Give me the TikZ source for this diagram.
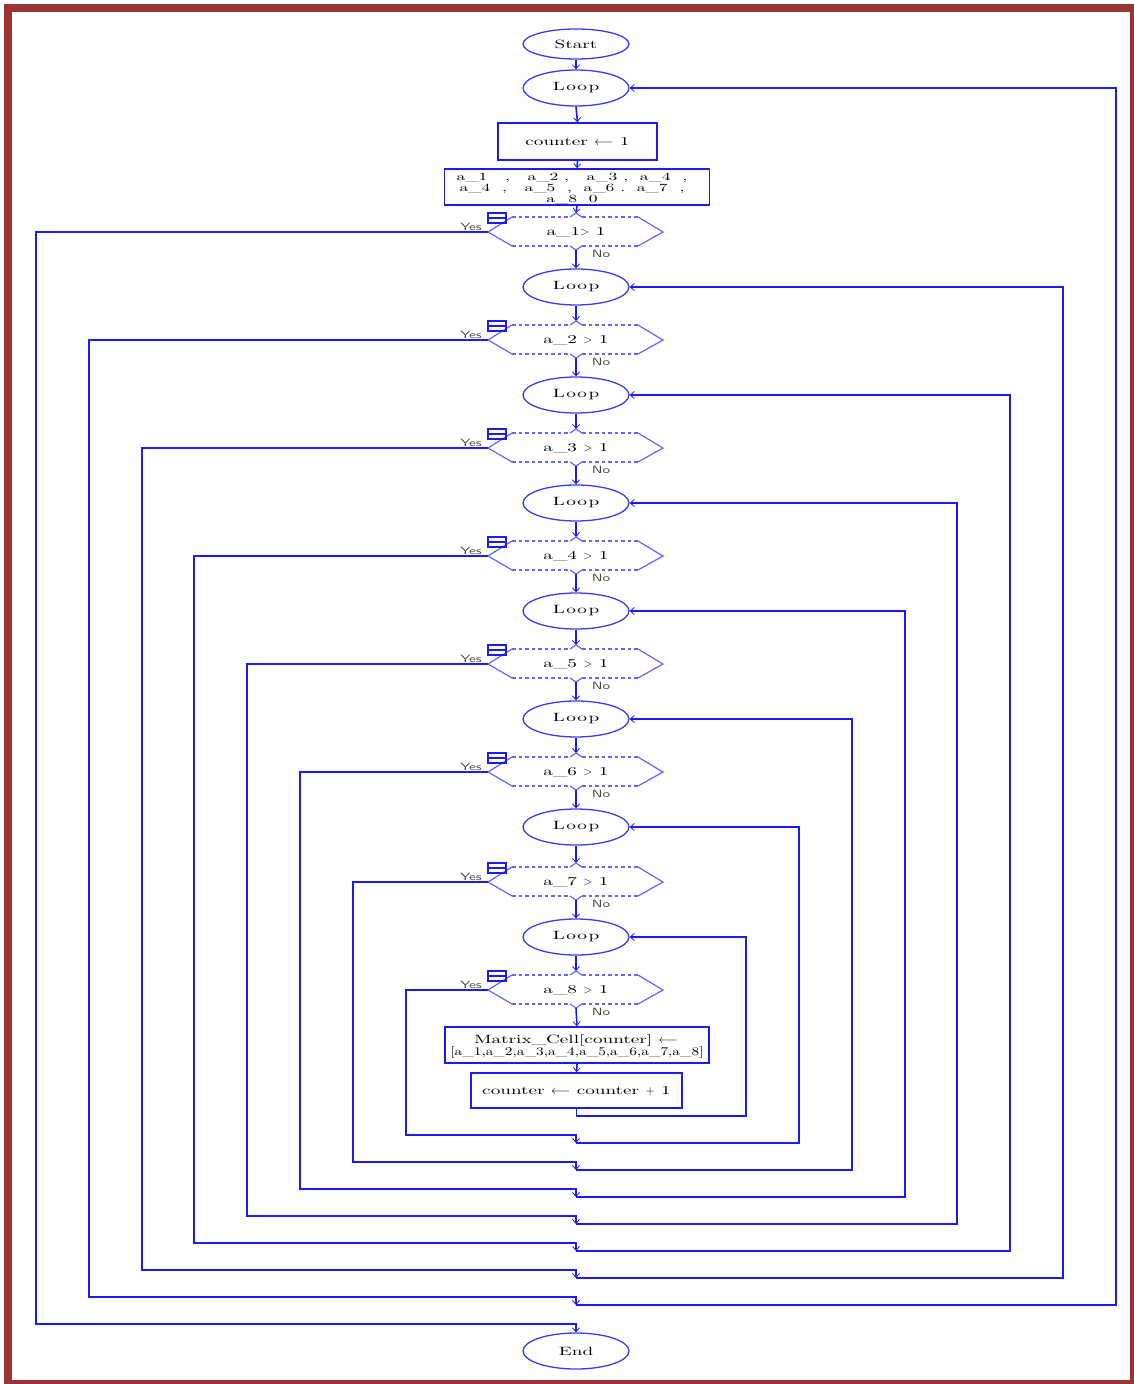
\documentclass[tikz,border=0pt]{standalone}
\usepackage{fontspec}
\usetikzlibrary{arrows.meta,calc,shapes.geometric}
\newfontfamily\wf{lmroman10-regular}[Extension=.otf,FakeStretch=1.6]
\newfontfamily\wfn{lmroman10-regular}[Extension=.otf,FakeStretch=1.3]
\newfontfamily\ws{lmsans10-regular}[Extension=.otf,FakeStretch=1.45]
\definecolor{ln}{HTML}{1A1AFF}
\definecolor{el}{HTML}{3A3AFF}
\definecolor{hx}{HTML}{6464FF}
\definecolor{fr}{HTML}{993535}
\definecolor{lbl}{HTML}{4A4A40}
\begin{document}
\begin{tikzpicture}[x=1pt,y=-1pt,
  conn/.style={draw=ln,line width=1.6pt,-{Straight Barb[length=4pt,width=7pt,line width=0.8pt]}},
  wire/.style={draw=ln,line width=1.6pt},
  oval/.style={ellipse,draw=el,line width=1.3pt,minimum width=106pt,minimum height=36pt,inner sep=0pt,font=\wf\fontsize{12}{14}\selectfont},
  box/.style={rectangle,draw=ln,line width=1.6pt,inner sep=0pt,font=\wf\fontsize{12}{14}\selectfont,align=center},
  dtext/.style={font=\wf\fontsize{12}{14}\selectfont,inner sep=0pt},
  hexs/.style={draw=hx,line width=1.2pt},
  hexd/.style={draw=hx,line width=1.2pt,dash pattern=on 3.5pt off 3pt},
  icon/.style={draw=ln,line width=1.2pt},
  yn/.style={font=\ws\fontsize{10.5}{11}\selectfont,text=lbl,inner sep=0pt}]
\useasboundingbox (0,0) rectangle (1134,1384);
\draw[fr,line width=8pt] (8,8) rectangle (1134,1384);

% top nodes
\node[oval,minimum height=30pt] (start) at (576,44) {Start};
\node[box,minimum width=159pt,minimum height=37pt] (cnt) at (577.5,141.5) {counter $\longleftarrow$ 1};
\node[box,minimum width=265pt,minimum height=36pt] (init) at (577,187) {};
\node[font=\wf\fontsize{11}{11}\selectfont,align=center,inner sep=0pt] (inittxt) at (572,189)
  {a\_1~~~,~~~a\_2~,~~~a\_3~,~~a\_4~~,\\a\_4~~,~~~a\_5~~,~~a\_6~.~~a\_7~~,\\a\_8~~0};

% loops and decisions
\foreach \k/\ly/\dy/\yx/\yy in {1/88/232/36/1324,2/287/340/89/1297,3/395/448/142/1270,4/503/556/194/1243,5/611/664/247/1216,6/719/772/300/1189,7/827/882/353/1162,8/937/990/406/1135}{
  \node[oval] (L\k) at (576,\ly) {\raisebox{-1.5pt}{L\kern1.5pt o\kern1.5pt o\kern1.5pt p}};
  \coordinate (dc\k) at (576,\dy);
  \coordinate (dt\k) at (576,{\dy-19});
  \coordinate (db\k) at (576,{\dy+18});
  \coordinate (dw\k) at (488,\dy);
  \coordinate (yc\k) at (\yx,\yy);
  \coordinate (ym\k) at (576,\yy);
  \begin{scope}[shift={(576,\dy)}]
    \draw[hexs] (-64,-15) -- (-88,0) -- (-64,14);
    \draw[hexs] (62,-15) -- (87,0) -- (62,14);
    \draw[hexd] (-64,-15) -- (-6,-15);
    \draw[hexd] (6,-15) -- (62,-15);
    \draw[hexd] (-64,14) -- (-6,14);
    \draw[hexd] (6,14) -- (62,14);
    \draw[hexs] (-6,-15) -- (0,-19) -- (6,-15);
    \draw[hexs] (-6,14) -- (0,18) -- (6,14);
    \draw[icon] (-88,-19) rectangle (-70,-9);
    \draw[icon] (-88,-14) -- (-70,-14);
    \node[yn] (yes\k) at (-105,-5) {Yes};
    \node[yn] (no\k) at (25,22) {No};
  \end{scope}
  \ifnum\k=1
    \node[dtext] (dx\k) at (dc\k) {a\_1$>$ 1};
  \else
    \node[dtext] (dx\k) at (dc\k) {a\_\k{} $>$ 1};
  \fi
}

\node[box,minimum width=264pt,minimum height=36pt] (mat) at (577,1045) {};
\node[font=\wf\fontsize{12}{12}\selectfont,inner sep=0pt] (mattxt1) at (576,1040)
  {Matrix\_Cell[counter] $\longleftarrow$};
\node[font=\wfn\fontsize{11.8}{12}\selectfont,inner sep=0pt] (mattxt2) at (577,1053)
  {\relax{}[a\_1,a\_2,a\_3,a\_4,a\_5,a\_6,a\_7,a\_8]};
\node[box,minimum width=211pt,minimum height=35pt] (inc) at (576.5,1090.5) {counter $\longleftarrow$ counter $+$ 1};
\node[oval] (endn) at (576,1351) {End};

% junction coordinates
\foreach \k/\rx/\jy in {1/1116/1305,2/1063/1278,3/1010/1251,4/957/1224,5/905/1197,6/852/1170,7/799/1143,8/746/1116}{
  \coordinate (j\k) at (576,\jy);
  \coordinate (r\k) at (\rx,\jy);
}

% main flow
\draw[conn] (start.south) -- (L1.north);
\draw[conn] (L1.south) -- (cnt.north);
\draw[conn] (cnt.south) -- (init.north);
\draw[conn] (init.south) -- (dt1);
\foreach \k/\n in {1/2,2/3,3/4,4/5,5/6,6/7,7/8}{
  \draw[conn] (db\k) -- (L\n.north);
  \draw[conn] (L\n.south) -- (dt\n);
}
\draw[conn] (db8) -- (mat.north);
\draw[conn] (mat.south) -- (inc.north);

% loop back edges
\draw[conn] (inc.south) |- (r8) |- (L8.east);
\foreach \k in {1,...,7}{
  \draw[conn] (j\k) -- (r\k) |- (L\k.east);
}

% yes edges
\draw[conn] (dw1) -| (yc1) -- (ym1) -- (endn.north);
\foreach \k/\p in {2/1,3/2,4/3,5/4,6/5,7/6,8/7}{
  \draw[conn] (dw\k) -| (yc\k) -- (ym\k) -- (j\p);
}
\end{tikzpicture}
\end{document}
